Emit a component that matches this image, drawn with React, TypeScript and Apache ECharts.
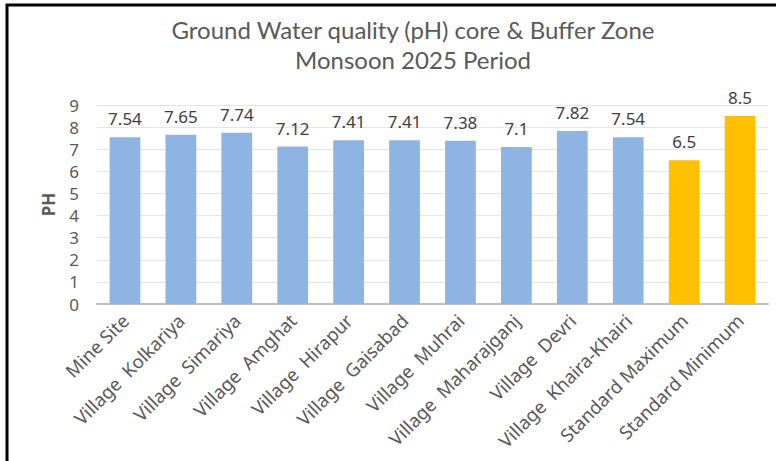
import React, { useEffect, useRef } from "react";
import * as echarts from "echarts";

const categories = [
  "Mine Site",
  "Village  Kolkariya",
  "Village  Simariya",
  "Village  Amghat",
  "Village  Hirapur",
  "Village  Gaisabad",
  "Village  Muhrai",
  "Village  Maharajganj",
  "Village  Devri",
  "Village  Khaira-Khairi",
  "Standard Maximum",
  "Standard Minimum",
];
const phValues = [7.54, 7.65, 7.74, 7.12, 7.41, 7.41, 7.38, 7.1, 7.82, 7.54, 6.5, 8.5];
const barColors = [
  "#8DB4E2", "#8DB4E2", "#8DB4E2", "#8DB4E2", "#8DB4E2", "#8DB4E2",
  "#8DB4E2", "#8DB4E2", "#8DB4E2", "#8DB4E2", "#FFC000", "#FFC000",
];
const titleLines = ["Ground Water quality (pH) core & Buffer Zone", "Monsoon 2025 Period"];
const yAxisName = "PH";

export default function App() {
  const ref = useRef<HTMLDivElement>(null);
  useEffect(() => {
    if (!ref.current) return;
    const chart = echarts.init(ref.current, null, { renderer: "svg" });
    const titleFont = "Lato, sans-serif";
    const font = "'Noto Sans', sans-serif";
    chart.setOption({
      animation: false,
      backgroundColor: "#ffffff",
      title: {
        text: titleLines.join("\n"),
        left: 408,
        top: 9,
        textAlign: "center",
        textStyle: {
          fontFamily: titleFont,
          fontSize: 24,
          fontWeight: "normal",
          color: "#595959",
          lineHeight: 30,
        },
      },
      graphic: [
        {
          type: "rect",
          shape: { x: 7, y: 5, width: 820, height: 520 },
          style: { fill: "none", stroke: "#000000", lineWidth: 3 },
          silent: true,
        },
      ],
      grid: { left: 97, right: 8, top: 105, bottom: 157, containLabel: false },
      xAxis: {
        type: "category",
        data: categories,
        axisLine: { lineStyle: { color: "#BFBFBF", width: 2 } },
        axisTick: { show: false },
        axisLabel: {
          rotate: 45,
          interval: 0,
          margin: 13,
          fontFamily: font,
          fontSize: 18.5,
          color: "#595959",
        },
      },
      yAxis: {
        type: "value",
        min: 0,
        max: 9,
        interval: 1,
        name: yAxisName,
        nameLocation: "middle",
        nameGap: 40,
        nameRotate: 90,
        nameTextStyle: {
          fontFamily: font,
          fontSize: 17,
          fontWeight: "bold",
          color: "#595959",
        },
        axisLine: { show: false },
        axisTick: { show: false },
        axisLabel: {
          margin: 18,
          fontFamily: font,
          fontSize: 17,
          color: "#595959",
        },
        splitLine: { lineStyle: { color: "#E5E5E5", width: 1 } },
      },
      series: [
        {
          type: "bar",
          data: phValues.map((v, i) => ({ value: v, itemStyle: { color: barColors[i] } })),
          barWidth: "55%",
          label: {
            show: true,
            position: "top",
            distance: 10,
            fontFamily: font,
            fontSize: 17,
            color: "#404040",
          },
        },
      ],
    });
    return () => chart.dispose();
  }, []);
  return <div ref={ref} style={{ width: 776, height: 461, position: "fixed", left: 0, top: 0 }} />;
}
